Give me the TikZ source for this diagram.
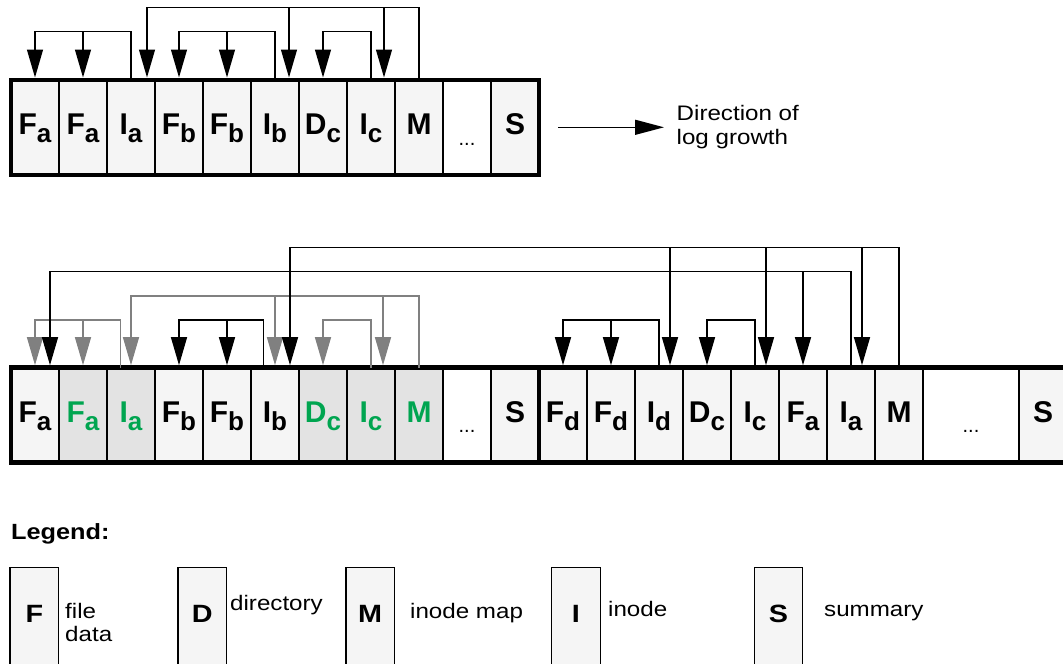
\documentclass[tikz,border=0pt]{standalone}
\usepackage{fontspec}
\setmainfont{Liberation Sans}
\newfontfamily\widefont[FakeStretch=1.15]{Liberation Sans}
\usepackage{xcolor}
\usepackage{tikz}
\usetikzlibrary{positioning,arrows.meta}

\definecolor{cellfill}{HTML}{F5F5F5}
\definecolor{stalefill}{HTML}{E3E3E3}
\definecolor{livegreen}{HTML}{00A550}
\definecolor{stalegray}{HTML}{808080}

% block label with a full size lowered index
\newcommand{\seg}[2]{#1\raisebox{-8pt}{\fontsize{26}{26}\selectfont #2}}

\begin{document}
\begin{tikzpicture}[x=1pt, y=-1pt,
        cell/.style={draw, rectangle, line width=1.3pt, fill=cellfill, minimum width=48pt, minimum height=95pt, inner sep=0pt, outer sep=0pt, text height=22pt, text depth=6.8pt, font=\bfseries\fontsize{30}{30}\selectfont},
        stalecell/.style={cell, fill=stalefill, text=livegreen},
        gapcell/.style={cell, fill=white, text height=36pt, text depth=0.6pt, font=\fontsize{20}{20}\selectfont},
        frame/.style={draw, line width=4.6pt},
        link/.style={draw, line width=1.3pt, -{Triangle[length=28pt, width=16pt]}, shorten >=2.3pt},
        stale/.style={link, draw=stalegray},
        key/.style={draw, rectangle, line width=1.3pt, fill=cellfill, minimum width=48.5pt, minimum height=110pt, inner sep=0pt, text height=10pt, text depth=10pt, font=\widefont\bfseries\fontsize{25}{25}\selectfont},
        note/.style={inner sep=0pt, font=\widefont\fontsize{21}{23.4}\selectfont}
    ]
        \useasboundingbox (0,0) rectangle (1063,664);

        % log before
        \node [cell] (ufa1) at (35,127.3) {\seg{F}{a}};
        \node [cell, right=0pt of ufa1] (ufa2) {\seg{F}{a}};
        \node [cell, right=0pt of ufa2] (uia) {\seg{I}{a}};
        \node [cell, right=0pt of uia] (ufb1) {\seg{F}{b}};
        \node [cell, right=0pt of ufb1] (ufb2) {\seg{F}{b}};
        \node [cell, right=0pt of ufb2] (uib) {\seg{I}{b}};
        \node [cell, right=0pt of uib] (udc) {\seg{D}{c}};
        \node [cell, right=0pt of udc] (uic) {\seg{I}{c}};
        \node [cell, right=0pt of uic] (umap) {M};
        \node [gapcell, right=0pt of umap] (udots) {...};
        \node [cell, right=0pt of udots] (usum) {S};
        \draw [frame] (ufa1.north west) rectangle (usum.south east);

        \node [note, anchor=north west, align=left] (growth) at (676.5,105.4) {Direction of\\log growth};
        \coordinate [right=19pt of usum.east] (growtail);
        \draw [line width=1.3pt, -{Triangle[length=29pt, width=15pt]}] (growtail) -- ([xshift=-12.5pt]growth.west |- growtail);

        % log after
        \node [cell] (lfa1) at (35,415) {\seg{F}{a}};
        \node [stalecell, right=0pt of lfa1] (lfa2) {\seg{F}{a}};
        \node [stalecell, right=0pt of lfa2] (lia) {\seg{I}{a}};
        \node [cell, right=0pt of lia] (lfb1) {\seg{F}{b}};
        \node [cell, right=0pt of lfb1] (lfb2) {\seg{F}{b}};
        \node [cell, right=0pt of lfb2] (lib) {\seg{I}{b}};
        \node [stalecell, right=0pt of lib] (ldc) {\seg{D}{c}};
        \node [stalecell, right=0pt of ldc] (lic) {\seg{I}{c}};
        \node [stalecell, right=0pt of lic] (lmap) {M};
        \node [gapcell, right=0pt of lmap] (ldots) {...};
        \node [cell, right=0pt of ldots] (lsum) {S};
        \node [cell, right=0pt of lsum] (nfd1) {\seg{F}{d}};
        \node [cell, right=0pt of nfd1] (nfd2) {\seg{F}{d}};
        \node [cell, right=0pt of nfd2] (nid) {\seg{I}{d}};
        \node [cell, right=0pt of nid] (ndc) {\seg{D}{c}};
        \node [cell, right=0pt of ndc] (nic) {\seg{I}{c}};
        \node [cell, right=0pt of nic] (nfa) {\seg{F}{a}};
        \node [cell, right=0pt of nfa] (nia) {\seg{I}{a}};
        \node [cell, right=0pt of nia] (nmap) {M};
        \node [gapcell, minimum width=96pt, right=0pt of nmap] (ndots) {...};
        \node [cell, right=0pt of ndots] (nsum) {S};
        \draw [frame] (lfa1.north west) rectangle (nsum.south east);
        \draw [frame] (lsum.north east) -- (lsum.south east);

        % pointer levels
        \coordinate (uhi) at (0,7.3);
        \coordinate (ulo) at (0,31.7);
        \coordinate (lv1) at (0,247.3);
        \coordinate (lv2) at (0,271.7);
        \coordinate (lv3) at (0,296);
        \coordinate (lv4) at (0,320);

        % pointers before
        \coordinate (uiain) at ([xshift=16pt]uia.north);
        \coordinate (uibin) at ([xshift=14pt]uib.north);
        \coordinate (uicin) at ([xshift=13pt]uic.north);
        \draw [link] (uia.north) -- (uia.north |- ulo) -| (ufa1.north);
        \draw [link] (ufa2.north |- ulo) -- (ufa2.north);
        \draw [link] (uib.north) -- (uib.north |- ulo) -| (ufb1.north);
        \draw [link] (ufb2.north |- ulo) -- (ufb2.north);
        \draw [link] (uic.north) -- (uic.north |- ulo) -| (udc.north);
        \draw [link] (umap.north) -- (umap.north |- uhi) -| (uiain);
        \draw [link] (uibin |- uhi) -- (uibin);
        \draw [link] (uicin |- uhi) -- (uicin);

        % dead pointers
        \coordinate (liaout) at ([xshift=-10.5pt]lia.north);
        \coordinate (licin) at ([xshift=12pt]lic.north);
        \draw [stale] (liaout) -- (liaout |- lv4) -| (lfa1.north);
        \draw [stale] (lfa2.north |- lv4) -- (lfa2.north);
        \draw [stale] (lmap.north) -- (lmap.north |- lv3) -| (lia.north);
        \draw [stale] (lib.north |- lv3) -- (lib.north);
        \draw [stale] (licin |- lv3) -- (licin);
        \draw [stale] (lic.north) -- (lic.north |- lv4) -| (ldc.north);

        % live pointers
        \coordinate (libout) at ([xshift=-11.6pt]lib.north);
        \coordinate (libin) at ([xshift=15pt]lib.north);
        \coordinate (lfain) at ([xshift=15pt]lfa1.north);
        \coordinate (nidin) at ([xshift=11pt]nid.north);
        \coordinate (nicin) at ([xshift=11pt]nic.north);
        \coordinate (niain) at ([xshift=11pt]nia.north);
        \draw [link] (libout) -- (libout |- lv4) -| (lfb1.north);
        \draw [link] (lfb2.north |- lv4) -- (lfb2.north);
        \draw [link] (nid.north) -- (nid.north |- lv4) -| (nfd1.north);
        \draw [link] (nfd2.north |- lv4) -- (nfd2.north);
        \draw [link] (nic.north) -- (nic.north |- lv4) -| (ndc.north);
        \draw [link] (nmap.north) -- (nmap.north |- lv1) -| (libin);
        \draw [link] (nidin |- lv1) -- (nidin);
        \draw [link] (nicin |- lv1) -- (nicin);
        \draw [link] (niain |- lv1) -- (niain);
        \draw [link] (nia.north) -- (nia.north |- lv2) -| (lfain);
        \draw [link] (nfa.north |- lv2) -- (nfa.north);

        % legend
        \node [note, anchor=base west, font=\widefont\bfseries\fontsize{22}{22}\selectfont] (legend) at (11,539.3) {Legend:};
        \node [key] (keyf) at (34.3,622.5) {F};
        \node [key] (keyd) at (202.2,622.5) {D};
        \node [key] (keym) at (370.2,622.5) {M};
        \node [key] (keyi) at (575.9,622.5) {I};
        \node [key] (keys) at (778.4,622.5) {S};
        \node [note, anchor=north west, align=left] (keyftext) at (65,603) {file\\data};
        \node [note, anchor=base west] (keydtext) at (230,610) {directory};
        \node [note, anchor=base west] (keymtext) at (410,618.3) {inode map};
        \node [note, anchor=base west] (keyitext) at (608,616) {inode};
        \node [note, anchor=base west] (keystext) at (824,616.7) {summary};
    \end{tikzpicture}
\end{document}
